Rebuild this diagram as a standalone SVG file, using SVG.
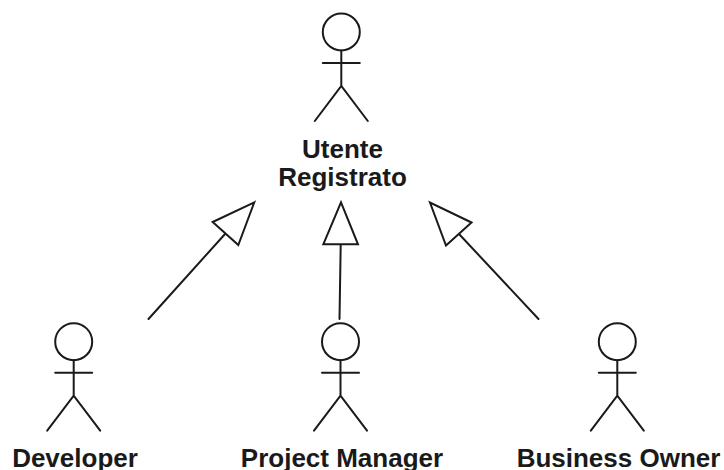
<svg xmlns="http://www.w3.org/2000/svg" width="724" height="470" viewBox="0 0 724 470">
<defs>
<style>
.s{fill:none;stroke:#1a1a1a;stroke-width:2;stroke-linecap:round;stroke-linejoin:miter}
.t{font-family:"Liberation Sans",Arial,sans-serif;font-weight:700;font-size:26px;fill:#1a1a1a;text-anchor:middle}
</style>
<g id="actor">
<circle class="s" cx="0" cy="0" r="18.5"/>
<path class="s" d="M0 18.5V54M-18.5 31H18.5M-26.500 89L0 54L26.500 89"/>
</g>
</defs>
<rect width="724" height="470" fill="#fff"/>
<g id="connectors">
<path class="s" d="M148.500 319L225.500 233.500M212.700 222L254.300 202.300L238.300 245Z"/>
<path class="s" d="M339.500 319L340.700 244.300M323.300 244.300L341 202.300L358 244.300Z"/>
<path class="s" d="M538.500 319L459 234M471.500 222.500L430 202.500L446 245.500Z"/>
</g>
<g id="utente"><use href="#actor" x="341.300" y="32"/><text class="t" x="342.500" y="158">Utente</text><text class="t" x="342.500" y="186">Registrato</text></g>
<g id="developer"><use href="#actor" x="73.700" y="341.700"/><text class="t" x="75" y="467">Developer</text></g>
<g id="project-manager"><use href="#actor" x="340.500" y="341.700"/><text class="t" x="342" y="467">Project Manager</text></g>
<g id="business-owner"><use href="#actor" x="617.300" y="341.700"/><text class="t" x="618.500" y="467">Business Owner</text></g>
</svg>
